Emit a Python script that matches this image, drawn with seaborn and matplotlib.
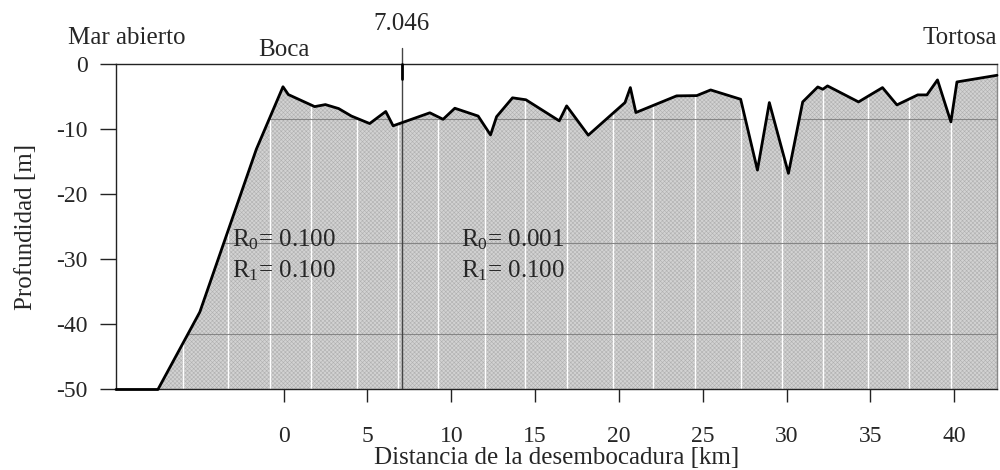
import numpy as np
import pandas as pd
import matplotlib
matplotlib.use("Agg")
import matplotlib.pyplot as plt
from matplotlib.patches import Polygon
import seaborn as sns

# ---------------- data ----------------
dist_km = [-10.0, -7.5, -5.0, -1.63, -0.04, 0.28, 1.85, 2.49, 3.28, 4.04, 5.13,
           6.09, 6.53, 8.72, 9.51, 10.21, 11.6, 12.34, 12.7, 13.65, 14.45, 16.44,
           16.88, 18.17, 20.36, 20.68, 21.01, 23.44, 24.64, 25.47, 27.26, 28.26,
           28.97, 30.11, 30.96, 31.86, 32.16, 32.44, 34.29, 35.72, 36.58, 37.82,
           38.37, 39.0, 39.8, 40.16, 42.55]
depth_m = [-50, -50, -38.1, -13.1, -3.5, -4.7, -6.55, -6.24, -6.85, -8.0, -9.15,
           -7.3, -9.5, -7.5, -8.5, -6.8, -8.0, -10.9, -8.1, -5.2, -5.5, -8.74,
           -6.44, -10.94, -5.93, -3.63, -7.46, -4.9, -4.86, -3.99, -5.42, -16.3,
           -5.93, -16.8, -5.83, -3.53, -3.89, -3.37, -5.83, -3.63, -6.29, -4.75,
           -4.75, -2.45, -8.9, -2.76, -1.74]
split_km = 7.046
section_km = [-5.98, -3.29, -0.79, 1.65, 4.39, 6.82, 9.23, 12.03, 14.41, 16.92,
              19.66, 22.04, 24.55, 27.29, 29.73, 32.18, 34.87, 37.31, 39.81]
level_m = [-8.5, -27.5, -41.5]
x_ticks = [0, 5, 10, 15, 20, 25, 30, 35, 40]
y_ticks = [0, -10, -20, -30, -40, -50]
r_left = ["R$_0$= 0.100", "R$_1$= 0.100"]
r_right = ["R$_0$= 0.001", "R$_1$= 0.100"]
x_min, x_max, y_min, y_max = -10.0, 42.55, -50, 0

df = pd.DataFrame({"dist": dist_km, "depth": depth_m})

# ---------------- style ----------------
sns.set_theme(style="white")
plt.rcParams["font.family"] = ["Liberation Serif", "DejaVu Serif"]
plt.rcParams["axes.unicode_minus"] = False
plt.rcParams["mathtext.fontset"] = "custom"
plt.rcParams["mathtext.rm"] = "Liberation Serif"
plt.rcParams["mathtext.it"] = "Liberation Serif:italic"
plt.rcParams["hatch.linewidth"] = 0.4

FS = 18

fig = plt.figure(figsize=(10, 4.7), dpi=100)
ax = fig.add_axes([0.116, 0.1713, 0.881, 0.6926])

# filled bed
ax.fill_between(df["dist"], df["depth"], y_min, facecolor="#d2d2d2",
                edgecolor="#b0b0b0", hatch="xxxxxxxx", linewidth=0, zorder=1)

clip_poly = Polygon(list(zip(dist_km, depth_m)) + [(dist_km[-1], y_min), (dist_km[0], y_min)],
                    closed=True, facecolor="none", edgecolor="none",
                    transform=ax.transData)
ax.add_patch(clip_poly)

for xv in section_km:
    ln = ax.axvline(xv, color="white", lw=1.0, zorder=2)
    ln.set_clip_path(clip_poly)
for yv in level_m:
    ln = ax.axhline(yv, color="#858585", lw=0.8, zorder=2)
    ln.set_clip_path(clip_poly)

# split line
ax.axvline(split_km, color="#444444", lw=1.0, zorder=3)
ax.plot([split_km, split_km], [1.0, 1.048], transform=ax.get_xaxis_transform(),
        color="#444444", lw=1.0, clip_on=False, zorder=3)
ax.plot([split_km, split_km], [1.0, 0.955], transform=ax.get_xaxis_transform(),
        color="black", lw=2.0, clip_on=False, zorder=4)

# profile
sns.lineplot(data=df, x="dist", y="depth", sort=False, estimator=None,
             color="black", lw=2.0, ax=ax, zorder=5)
ax.lines[-1].set_clip_on(False)

ax.set_xlim(x_min, x_max)
ax.set_ylim(y_min, y_max)
ax.set_xticks(x_ticks)
ax.set_xticklabels([str(v) for v in x_ticks])
ax.set_yticks(y_ticks)
ax.set_yticklabels([str(v) for v in y_ticks])
ax.tick_params(axis="x", direction="out", length=9.5, width=1, color="#222222",
               pad=17, labelsize=FS - 1, bottom=True)
ax.tick_params(axis="y", direction="out", length=11.5, width=1, color="#222222",
               pad=9, labelsize=FS - 1, left=True)
for s in ["left", "bottom", "top"]:
    ax.spines[s].set_color("#222222")
    ax.spines[s].set_linewidth(1.0)
ax.spines["right"].set_color("#888888")
ax.spines["right"].set_linewidth(1.0)

ax.set_xlabel("Distancia de la desembocadura [km]", fontsize=FS, labelpad=0)
ax.set_ylabel("Profundidad [m]", fontsize=FS, labelpad=14)

# annotations
ax.text(-0.055, 1.06, "Mar abierto", transform=ax.transAxes, ha="left",
        va="baseline", fontsize=FS)
ax.text(0, 1.025, "Boca", transform=ax.get_xaxis_transform(), ha="center",
        va="baseline", fontsize=FS)
ax.text(split_km, 1.105, f"{split_km:.3f}", transform=ax.get_xaxis_transform(),
        ha="center", va="baseline", fontsize=FS)
ax.text(1.0, 1.06, "Tortosa", transform=ax.transAxes, ha="right",
        va="baseline", fontsize=FS)

for xv, labels in [(-3.1, r_left), (10.55, r_right)]:
    ax.text(xv, -27.0, labels[0], ha="left", va="center", fontsize=FS, zorder=6)
    ax.text(xv, -31.8, labels[1], ha="left", va="center", fontsize=FS, zorder=6)

fig.savefig("out.png", dpi=100)
